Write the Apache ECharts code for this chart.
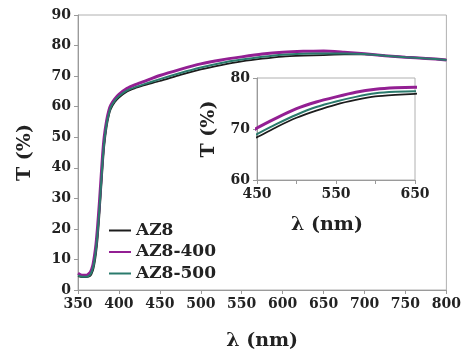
<!DOCTYPE html>
<html><head><meta charset="utf-8">
<script src="https://cdn.jsdelivr.net/npm/echarts@6/dist/echarts.min.js"></script>
<style>html,body{margin:0;padding:0;background:#fff}#c{width:464px;height:356px}</style>
</head><body><div id="c"></div>
<script>
var wavelengths = [350,355,360,365,368,370,372,374,376,378,380,382,385,388,390,395,400,410,420,430,450,475,500,525,550,575,600,625,650,675,700,725,750,775,800];
var tAZ8    = [4.5,4.2,4.2,4.6,6.2,8.5,12,17,24,32,40,47,53.5,57.5,59.2,61.5,63,65,66.1,67,68.4,70.4,72.2,73.6,74.8,75.7,76.4,76.7,76.9,77.1,77.1,76.7,76.2,75.8,75.3];
var tAZ8_400 = [5.5,4.8,4.8,5.8,8,11,15,21,28,36,44,50,55.5,59,60.5,62.5,64,66,67.2,68.2,70.2,72.2,74,75.3,76.3,77.2,77.8,78.1,78.2,77.8,77.3,76.7,76.2,75.8,75.3];
var tAZ8_500 = [4.8,4.3,4.3,5,7,9.5,13.5,19,26,34,42,48.5,54.5,58,59.8,62,63.4,65.3,66.4,67.3,69,71,72.8,74.3,75.4,76.3,77,77.3,77.4,77.4,77.2,76.7,76.2,75.8,75.3];
var seriesNames = ['AZ8','AZ8-400','AZ8-500'];
var mainXTicks = [350,800,50];
var mainYTicks = [0,90,10];
var insetXTicks = [450,650,50];
var insetYTicks = [60,80,10];

function pairs(ys){ return wavelengths.map(function(x,i){return [x,ys[i]];}); }
var font = 'DejaVu Serif';
var txt = '#222222';
var styles = [
  {color:'#1c1c1c', width:1.8},
  {color:'#931f93', width:3},
  {color:'#2a7a6c', width:2}
];
var dataSets = [tAZ8, tAZ8_400, tAZ8_500];

var series = [];
dataSets.forEach(function(d,i){
  series.push({name:seriesNames[i], type:'line', xAxisIndex:0, yAxisIndex:0, data:pairs(d),
    showSymbol:false, symbol:'none', smooth:0.2, lineStyle:styles[i], itemStyle:{color:styles[i].color}, z:3});
});
dataSets.forEach(function(d,i){
  series.push({name:seriesNames[i]+'_inset', type:'line', xAxisIndex:1, yAxisIndex:1, data:pairs(d),
    showSymbol:false, symbol:'none', smooth:0.2, lineStyle:styles[i], clip:true, z:5});
});

function axisCommon(){
  return {
    axisLine:{show:true, lineStyle:{color:'#9a9a9a', width:1}},
    axisTick:{show:true, inside:false, length:4, lineStyle:{color:'#9a9a9a'}},
    splitLine:{show:false},
    axisLabel:{color:txt, fontFamily:font, fontWeight:'bold', fontSize:14, margin:7},
    nameTextStyle:{color:txt, fontFamily:font, fontWeight:'bold', fontSize:19}
  };
}
var mx = axisCommon(), my = axisCommon(), ix = axisCommon(), iy = axisCommon();
Object.assign(mx, {type:'value', gridIndex:0, min:mainXTicks[0], max:mainXTicks[1], interval:mainXTicks[2], name:'λ (nm)', nameLocation:'middle', nameGap:42});
Object.assign(my, {type:'value', gridIndex:0, min:mainYTicks[0], max:mainYTicks[1], interval:mainYTicks[2], name:'T (%)', nameLocation:'middle', nameGap:43});
Object.assign(ix, {type:'value', gridIndex:1, min:insetXTicks[0], max:insetXTicks[1], interval:insetXTicks[2], name:'λ (nm)', nameLocation:'middle', nameGap:36});
ix.axisLabel = Object.assign({}, ix.axisLabel, {formatter:function(v){return (v%100===50)?String(v):'';}});
ix.nameTextStyle = Object.assign({}, ix.nameTextStyle, {padding:[0,18,0,0]});
Object.assign(iy, {type:'value', gridIndex:1, min:insetYTicks[0], max:insetYTicks[1], interval:insetYTicks[2], name:'T (%)', nameLocation:'middle', nameGap:38});
my.axisLabel.margin = 7; iy.axisLabel.margin = 7;

var chart = echarts.init(document.getElementById('c'), null, {renderer:'canvas'});
chart.setOption({
  animation:false,
  backgroundColor:'#fff',
  grid:[
    {left:78, right:16, top:15, bottom:64, show:true, borderColor:'#b0b0b0', borderWidth:1, backgroundColor:'transparent'},
    {left:257, right:49, top:78, bottom:176, show:true, borderColor:'#b0b0b0', borderWidth:1, backgroundColor:'#fff'}
  ],
  xAxis:[mx, ix],
  yAxis:[my, iy],
  legend:{
    data:seriesNames, orient:'vertical', left:108, top:222, padding:0, itemWidth:22, itemHeight:12, itemGap:4.5,
    itemStyle:{opacity:0},
    textStyle:{color:txt, fontFamily:font, fontWeight:'bold', fontSize:17, lineHeight:17}
  },
  series:series
});
</script></body></html>
